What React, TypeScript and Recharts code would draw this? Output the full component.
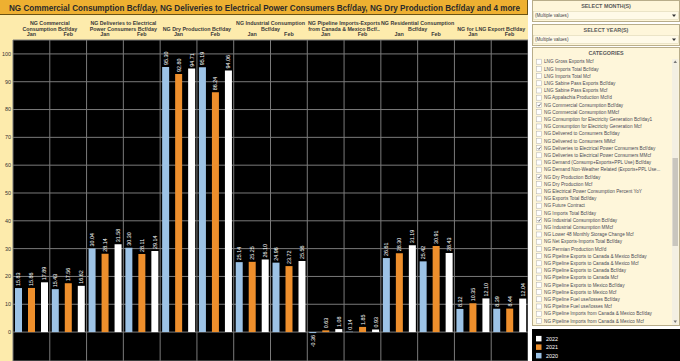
import React, { useLayoutEffect, useRef, useState } from "react";
import { BarChart, Bar, XAxis, YAxis, CartesianGrid, LabelList } from "recharts";

const categoryNames = [
  "NG Commercial Consumption Bcf/day",
  "NG Deliveries to Electrical Power Consumers Bcf/day",
  "NG Dry Production Bcf/day",
  "NG Industrial Consumption Bcf/day",
  "NG Pipeline Imports-Exports from Canada & Mexico Bcf/day",
  "NG Residential Consumption Bcf/day",
  "NG for LNG Export Bcf/day",
];
const headerLines = [
  ["NG Commercial", "Consumption Bcf/day"],
  ["NG Deliveries to Electrical", "Power Consumers Bcf/day"],
  ["NG Dry Production Bcf/day"],
  ["NG Industrial Consumption", "Bcf/day"],
  ["NG Pipeline Imports-Exports", "from Canada & Mexico Bcf/.."],
  ["NG Residential Consumption", "Bcf/day"],
  ["NG for LNG Export Bcf/day"],
];
const months = ["Jan", "Feb"];
const values2020 = [15.83, 15.43, 30.04, 30.3, 95.3, 95.19, 25.14, 24.96, -0.36, 0.14, 26.61, 25.42, 8.32, 8.39];
const values2021 = [15.86, 17.56, 28.14, 28.11, 92.8, 86.24, 25.25, 23.72, 0.63, 1.85, 28.3, 30.91, 10.35, 8.44];
const values2022 = [17.89, 16.62, 31.58, 29.14, 94.71, 94.06, 26.1, 25.56, 1.08, 0.93, 31.19, 28.43, 12.1, 12.04];
const yTicks = [0, 10, 20, 30, 40, 50, 60, 70, 80, 90, 100];
const legendYears = ["2022", "2021", "2020"];
const yearColors: Record<string, string> = { "2020": "#9DC3E6", "2021": "#EE8F2C", "2022": "#FFFFFF" };
const categoryList = [
  "LNG Gross Exports Mcf",
  "LNG Imports Total Bcf/day",
  "LNG Imports Total Mcf",
  "LNG Sabine Pass Exports Bcf/day",
  "LNG Sabine Pass Exports Mcf",
  "NG Appalachia Production Mcf/d",
  "NG Commercial Consumption Bcf/day",
  "NG Commercial Consumption MMcf",
  "NG Consumption for Electricity Generation Bcf/day1",
  "NG Consumption for Electricity Generation Mcf",
  "NG Delivered to Consumers Bcf/day",
  "NG Delivered to Consumers MMcf",
  "NG Deliveries to Electrical Power Consumers Bcf/day",
  "NG Deliveries to Electrical Power Consumers MMcf",
  "NG Demand (Consump+Exports+PPL Use) Bcf/day",
  "NG Demand Non-Weather Related (Exports+PPL Use...",
  "NG Dry Production Bcf/day",
  "NG Dry Production Mcf",
  "NG Electrical Power Consumption Percent YoY",
  "NG Exports Total Bcf/day",
  "NG Future Contract",
  "NG Imports Total Bcf/day",
  "NG Industrial Consumption Bcf/day",
  "NG Industrial Consumption MMcf",
  "NG Lower 48 Monthly Storage Change Mcf",
  "NG Net Exports-Imports Total Bcf/day",
  "NG Permian Production Mcf/d",
  "NG Pipeline Exports to Canada & Mexico Bcf/day",
  "NG Pipeline Exports to Canada & Mexico Mcf",
  "NG Pipeline Exports to Canada Bcf/day",
  "NG Pipeline Exports to Canada Mcf",
  "NG Pipeline Exports to Mexico Bcf/day",
  "NG Pipeline Exports to Mexico Mcf",
  "NG Pipeline Fuel use/losses Bcf/day",
  "NG Pipeline Fuel use/losses Mcf",
  "NG Pipeline Imports from Canada & Mexico Bcf/day",
  "NG Pipeline Imports from Canada & Mexico Mcf",
];

const rows = categoryNames.flatMap((c, ci) =>
  months.map((m, mi) => ({
    key: `${c}|${m}`,
    cat: ci,
    month: m,
    y2020: values2020[ci * 2 + mi],
    y2021: values2021[ci * 2 + mi],
    y2022: values2022[ci * 2 + mi],
  }))
);

const titleText = categoryNames.slice(0, 3).join(", ") + ` and ${categoryNames.length - 3} more`;
const FONT = "'Liberation Sans', Arial, sans-serif";

function HeaderTick(props: any) {
  const { x, payload } = props;
  const idx = payload?.index ?? props.index ?? 0;
  const row = rows[idx];
  if (!row) return null;
  const half = payload?.offset || 18.4;
  const out: any[] = [
    <text key="m" x={x} y={35.6} textAnchor="middle" fontSize={5.4} fontWeight="bold" fill="#3a3a3a" fontFamily={FONT}>
      {row.month}
    </text>,
  ];
  if (row.month === months[0]) {
    const lines = headerLines[row.cat];
    const cx = x + half;
    const base = 30.6 - (lines.length - 1) * 6;
    lines.forEach((l, i) => {
      out.push(
        <text key={"c" + i} x={cx} y={base + i * 6} textAnchor="middle" fontSize={5.3} fontWeight="bold" fill="#3a3a3a" fontFamily={FONT}>
          {l}
        </text>
      );
    });
  }
  return <g>{out}</g>;
}

function BarLabel(props: any) {
  const vb = props.viewBox && props.viewBox.x !== undefined ? props.viewBox : props;
  const { x, y, width, height } = vb;
  const value = props.value;
  if (x === undefined || value === undefined || value === null) return null;
  const cx = x + width / 2;
  const top = Math.min(y, y + height);
  const bottom = Math.max(y, y + height);
  const neg = Number(value) < 0;
  const ly = neg ? bottom + 2 : top - 2;
  return (
    <text
      x={cx}
      y={ly}
      transform={`rotate(-90 ${cx} ${ly})`}
      textAnchor={neg ? "end" : "start"}
      dominantBaseline="central"
      fontSize={5.4}
      fill="#ffffff"
      fontFamily={FONT}
    >
      {Number(value).toFixed(2)}
    </text>
  );
}

function Panel({ y, h, title }: { y: number; h: number; title: string }) {
  return (
    <g>
      <rect x={0.5} y={y + 0.5} width={147} height={h} fill="#FEF6DA" stroke="#B8AD8A" />
      <text x={74} y={y + 7.5} textAnchor="middle" fontSize={5.4} fontWeight="bold" fill="#5a5a5a" fontFamily={FONT}>
        {title}
      </text>
      <rect x={1.5} y={y + 11.5} width={145} height={8} fill="#FFFAE8" stroke="#D8CFAE" strokeWidth={0.5} />
      <text x={3} y={y + 17.3} fontSize={4.6} fill="#444" fontFamily={FONT}>
        (Multiple values)
      </text>
      <path d={`M${140} ${y + 14.5} L${144} ${y + 14.5} L${142} ${y + 17} Z`} fill="#333" />
    </g>
  );
}

function Title() {
  const ref = useRef<SVGTextElement>(null);
  const [sx, setSx] = useState(0.8);
  useLayoutEffect(() => {
    if (ref.current) {
      const w = ref.current.getComputedTextLength();
      if (w > 0) setSx(512 / w);
    }
  }, []);
  return (
    <svg style={{ position: "absolute", left: 0, top: 0 }} width={528} height={16}>
      <rect x={0} y={0} width={528} height={15} fill="#EEB031" />
      <line x1={0} y1={14.5} x2={528} y2={14.5} stroke="#6a5214" strokeWidth={1} />
      <line x1={527.5} y1={0} x2={527.5} y2={15} stroke="#6a5214" strokeWidth={1} />
      <g transform={`translate(9 11) scale(${sx} 1)`}>
        <text ref={ref} x={0} y={0} fontSize={9.6} fontWeight="bold" fill="#2a2a2a" fontFamily={FONT}>
          {titleText}
        </text>
      </g>
    </svg>
  );
}

export default function App() {
  const checked = new Set(categoryNames);
  return (
    <div
      style={{
        position: "fixed",
        left: 0,
        top: 0,
        width: 680,
        height: 361,
        background: "#FFFFFF",
        overflow: "hidden",
        fontFamily: FONT,
      }}
    >
      <div style={{ position: "absolute", left: 0, top: 0, width: 528, height: 361, background: "#FDEBAC" }} />
      <div style={{ position: "absolute", left: 0, top: 0 }}>
        <BarChart
          width={528}
          height={361}
          data={rows}
          margin={{ top: 15, right: 0, bottom: 0, left: 0 }}
          barSize={7}
          barGap={6}
        >
          <CartesianGrid
            fill="#000000"
            fillOpacity={1}
            stroke="#7a7a7a"
            strokeWidth={1}
            verticalCoordinatesGenerator={({ offset }: any) =>
              rows.map((_, i) => offset.left + (i * offset.width) / rows.length).concat([offset.left + offset.width])
            }
          />
          <XAxis
            dataKey="key"
            orientation="top"
            height={25}
            interval={0}
            tickLine={false}
            axisLine={false}
            tick={<HeaderTick />}
          />
          <YAxis
            width={13}
            domain={[-10.4, 105]}
            ticks={yTicks}
            allowDataOverflow
            tickLine={false}
            axisLine={false}
            tickSize={0}
            tickMargin={2}
            tick={{ fontSize: 5.4, fill: "#333", fontFamily: FONT }}
          />
          <Bar dataKey="y2020" fill={yearColors["2020"]} isAnimationActive={false}>
            <LabelList dataKey="y2020" content={<BarLabel />} />
          </Bar>
          <Bar dataKey="y2021" fill={yearColors["2021"]} isAnimationActive={false}>
            <LabelList dataKey="y2021" content={<BarLabel />} />
          </Bar>
          <Bar dataKey="y2022" fill={yearColors["2022"]} isAnimationActive={false}>
            <LabelList dataKey="y2022" content={<BarLabel />} />
          </Bar>
        </BarChart>
      </div>
      <Title />
      <svg style={{ position: "absolute", left: 532, top: 0 }} width={148} height={361}>
        <Panel y={0} h={21} title="SELECT MONTH(S)" />
        <Panel y={24} h={21} title="SELECT YEAR(S)" />
        <rect x={0.5} y={47.5} width={147} height={278} fill="#FEF6DA" stroke="#B8AD8A" />
        <text x={74} y={55} textAnchor="middle" fontSize={5.4} fontWeight="bold" fill="#5a5a5a" fontFamily={FONT}>
          CATEGORIES
        </text>
        <rect x={140} y={59} width={6.5} height={266} fill="#F3EFE2" />
        <rect x={140.5} y={158} width={5.5} height={88} fill="#C9C6BE" />
        <path d="M141.5 63 L145 63 L143.25 60.5 Z" fill="#777" />
        <path d="M141.5 320.5 L145 320.5 L143.25 323 Z" fill="#777" />
        {categoryList.map((name, i) => {
          const cy = 61.7 + i * 7.2;
          const on = checked.has(name);
          return (
            <g key={name}>
              <rect x={4.5} y={cy - 2.5} width={5} height={5} fill="#FFFFFF" stroke="#B0B0B0" strokeWidth={0.5} />
              {on && <path d={`M5.6 ${cy} L6.9 ${cy + 1.3} L8.8 ${cy - 1.4}`} stroke="#444" strokeWidth={0.7} fill="none" />}
              <text x={12} y={cy + 1.7} fontSize={4.7} fill="#4a4a55" fontFamily={FONT}>
                {name}
              </text>
            </g>
          );
        })}
        <rect x={0} y={329} width={148} height={32} fill="#000000" />
        {legendYears.map((yr, i) => {
          const cy = 338.7 + i * 8.5;
          return (
            <g key={yr}>
              <rect x={4} y={cy - 2.8} width={5.5} height={5.5} fill={yearColors[yr]} />
              <text x={14} y={cy + 2} fontSize={5.4} fill="#FFFFFF" fontFamily={FONT}>
                {yr}
              </text>
            </g>
          );
        })}
      </svg>
    </div>
  );
}
